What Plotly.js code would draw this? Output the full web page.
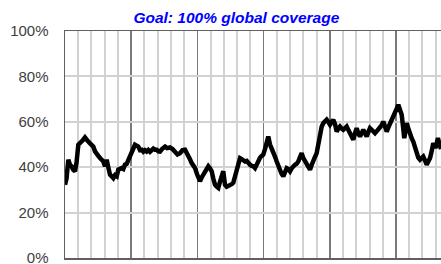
<!DOCTYPE html>
<html>
<head>
<meta charset="utf-8">
<script src="https://cdn.plot.ly/plotly-3.0.1.min.js"></script>
<style>html,body{margin:0;padding:0;background:#fff;}#chart{width:441px;height:264px;}</style>
</head>
<body>
<div id="chart"></div>
<script>
// Time (years from start of series) and coverage (%)
const timeYears = [0,0.023,0.050,0.076,0.101,0.121,0.151,0.174,0.201,0.227,0.252,0.272,0.302,0.325,0.352,0.378,0.400,0.427,0.453,0.479,0.503,0.529,0.554,0.579,0.604,0.630,0.654,0.680,0.705,0.730,0.755,0.781,0.805,0.831,0.856,0.881,0.906,0.932,0.956,0.982,1.008,1.032,1.057,1.083,1.107,1.133,1.159,1.183,1.208,1.234,1.258,1.284,1.310,1.334,1.360,1.385,1.409,1.435,1.465,1.511,1.541,1.586,1.624,1.662,1.699,1.737,1.775,1.813,1.838,1.863,1.888,1.914,1.938,1.964,1.994,2.014,2.039,2.065,2.089,2.115,2.140,2.165,2.190,2.216,2.240,2.266,2.292,2.316,2.341,2.367,2.391,2.405,2.417,2.443,2.467,2.492,2.518,2.542,2.568,2.594,2.618,2.644,2.669,2.693,2.719,2.745,2.769,2.795,2.820,2.844,2.870,2.896,2.920,2.946,2.971,2.995,3.021,3.047,3.071,3.097,3.122,3.146,3.172,3.198,3.222,3.248,3.273,3.298,3.323,3.349,3.373,3.399,3.424,3.449,3.474,3.500,3.524,3.550,3.575,3.600,3.625,3.651,3.675,3.701,3.726,3.751,3.776,3.802,3.826,3.852,3.877,3.902,3.927,3.953,3.977,4.003,4.028,4.053,4.079,4.104,4.128,4.154,4.180,4.204,4.230,4.255,4.279,4.305,4.331,4.355,4.381,4.406,4.430,4.456,4.482,4.506,4.532,4.557,4.582,4.607,4.633,4.657,4.683,4.708,4.733,4.758,4.784,4.808,4.834,4.860,4.884,4.909,4.935,4.959,4.985,5.011,5.035,5.060,5.086,5.106,5.125,5.144,5.162,5.186,5.211,5.237,5.261,5.287,5.313,5.337,5.363,5.388,5.412,5.438,5.464,5.488,5.514,5.539,5.563,5.582,5.599,5.615,5.634,5.650,5.665,5.680];
const coveragePct = [32.3,35,43.3,41,40.4,39,38.2,42,49.9,50.5,51.3,52,53.1,52,51.3,50.5,50,49.1,47,45.5,45,44,43.5,42.5,40.4,43.3,40,36.7,36,35.2,36.5,36,38.9,39.5,39.6,39.2,41.1,41.5,43.3,45,46.9,48.5,49.9,49.5,49.1,47.5,47.7,46.8,47.5,46.9,47.6,46.8,47.3,48.2,47.7,47.7,47.0,46.9,48,49.1,48.4,48.7,48,46.9,45.6,46.2,47.5,47.7,46.5,45.5,43.5,41.8,40.8,39.6,37,35,33.8,35.5,36.7,38,39,40.4,39.5,38.2,35,32.3,31.5,30.9,33.5,36.7,38.2,35,32.3,31.4,31.6,31.8,32.5,33.1,36,39.6,42,44,43.6,43.3,42.5,42.8,41.8,41.1,40.6,40.4,39.6,41.5,43.3,44.2,45,45.5,48,51.3,53.5,50,47.7,46,44.7,42.5,40.4,38.5,37,36,37.5,39.6,39.2,38.2,39.5,40.5,41.1,41.5,42.5,44.5,46.2,44,42.5,41,39.8,38.9,41,43.3,44.5,46.2,51,55.7,57.8,59.4,60.3,60.9,60,58.7,59.8,60.9,59,55.7,57,57.9,57,56.5,57.2,57.9,56.5,55,53.5,52.1,55,57.2,55,53.5,55,56.5,55,53.5,55.5,57.2,56.5,55.8,55,55.8,56.5,57.2,58.5,60.1,58,55.7,57.5,59.4,60.8,62.3,64,65.8,67.5,65.5,63.1,58,52.8,56,59.4,57,54.3,52.8,51.3,48.5,45.5,44.2,43.3,44,44.7,43,41.1,42.5,44,47,50.6,49.5,48.4,50.5,52.8,51,49.1,48];
const yTickVals = [0,20,40,60,80,100];
const yTickText = ['0%','20%','40%','60%','80%','100%'];
const chartTitle = 'Goal: 100% global coverage';

const trace = {
  x: timeYears, y: coveragePct, type: 'scatter', mode: 'lines',
  line: {color: '#000000', width: 4.5}, hoverinfo: 'skip'
};
const layout = {
  width: 441, height: 264,
  margin: {l: 65, r: 0, t: 31, b: 6, pad: 0},
  paper_bgcolor: '#ffffff', plot_bgcolor: '#ffffff',
  showlegend: false,
  font: {family: 'Liberation Sans, Arial, sans-serif'},
  title: {
    text: '<b><i>' + chartTitle + '</i></b>',
    font: {family: 'Liberation Sans, Arial, sans-serif', size: 15.5, color: '#0000ff'},
    x: 0.536, xanchor: 'center', xref: 'container',
    y: 1 - 18/264, yanchor: 'middle', yref: 'container'
  },
  xaxis: {
    range: [0, 5.68], showticklabels: false, ticks: '',
    tick0: 0, dtick: 1,
    showgrid: true, gridcolor: '#7a7a7a', gridwidth: 1.5,
    minor: {tick0: 0, dtick: 0.2, showgrid: true, gridcolor: '#d2d2d2', gridwidth: 2, ticks: ''},
    zeroline: false, showline: true, linecolor: '#606060', linewidth: 1.5, mirror: true,
    automargin: false, fixedrange: true
  },
  yaxis: {
    range: [0, 100], tickvals: yTickVals, ticktext: yTickText, ticks: '',
    ticklabelstandoff: 12, ticklabeloverflow: 'allow',
    tickfont: {family: 'Liberation Sans, Arial, sans-serif', size: 15, color: '#404040'},
    showgrid: true, gridcolor: '#d2d2d2', gridwidth: 2,
    zeroline: false, showline: true, linecolor: '#606060', linewidth: 1.5, mirror: false,
    automargin: false, fixedrange: true
  }
};
Plotly.newPlot('chart', [trace], layout, {staticPlot: true, displayModeBar: false});
</script>
</body>
</html>
